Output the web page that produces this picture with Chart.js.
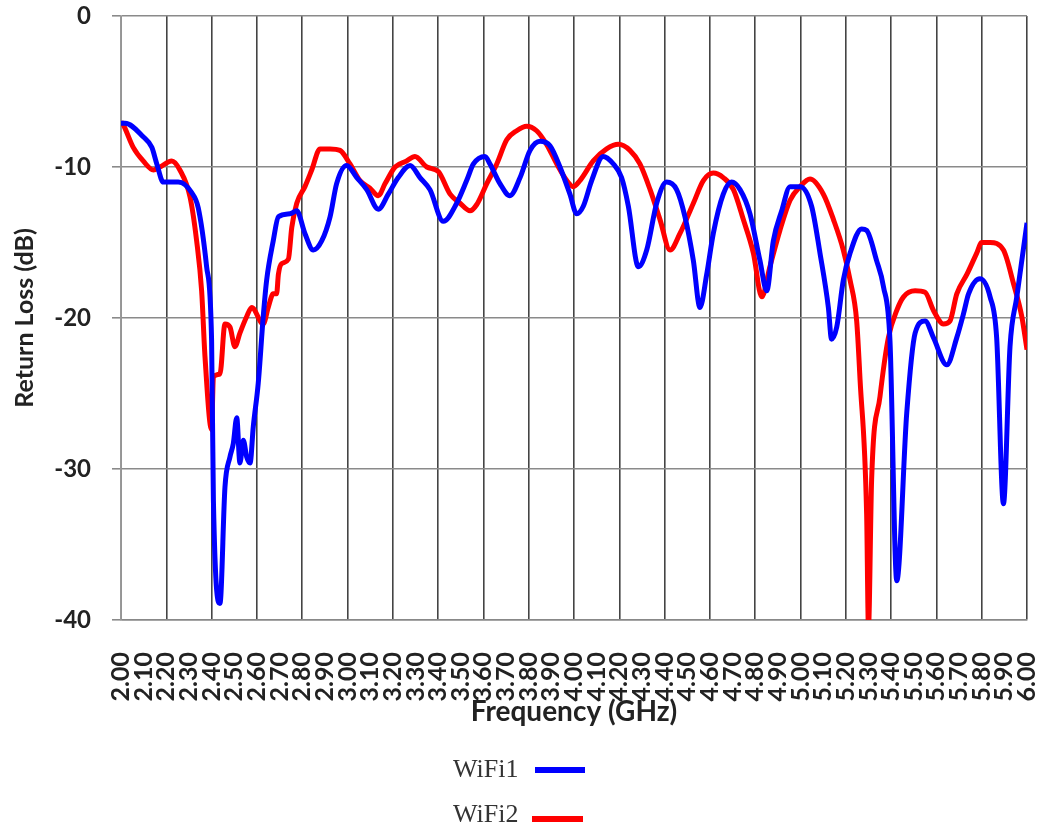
<!DOCTYPE html>
<html>
<head>
<meta charset="utf-8">
<script src="https://cdn.jsdelivr.net/npm/chart.js@4"></script>
<style>
    body { margin: 0; background: #fff; }
    #wrap { position: relative; width: 1046px; height: 834px; }
    .leg { position: absolute; font-family: 'Liberation Serif', serif; font-size: 26px; color: #333; }
    .legLine { position: absolute; height: 6px; }
</style>
</head>
<body>
<div id="wrap">
    <canvas id="grafico" width="1046" height="834"></canvas>
    <div class="leg" style="left:453px; top:754px;">WiFi1</div>
    <div class="legLine" style="left:535px; top:767px; width:50px; background:#0000ff;"></div>
    <div class="leg" style="left:453px; top:799px;">WiFi2</div>
    <div class="legLine" style="left:532px; top:816px; width:51px; background:#ff0000;"></div>
</div>
<script>
const wifi1Freq = [2.000, 2.018, 2.098, 2.136, 2.158, 2.187, 2.253, 2.312, 2.341, 2.378,
    2.400, 2.408, 2.437, 2.459, 2.481, 2.496, 2.511, 2.525, 2.540, 2.555,
    2.570, 2.584, 2.606, 2.628, 2.643, 2.672, 2.695, 2.746, 2.776, 2.812,
    2.849, 2.886, 2.923, 2.952, 2.996, 3.041, 3.085, 3.136, 3.180, 3.224,
    3.276, 3.320, 3.364, 3.423, 3.482, 3.526, 3.556, 3.607, 3.629, 3.673,
    3.717, 3.762, 3.806, 3.850, 3.894, 3.938, 3.982, 4.012, 4.041, 4.078,
    4.129, 4.174, 4.210, 4.240, 4.284, 4.321, 4.365, 4.409, 4.453, 4.490,
    4.527, 4.556, 4.586, 4.615, 4.659, 4.696, 4.733, 4.777, 4.821, 4.851,
    4.880, 4.917, 4.954, 4.998, 5.049, 5.086, 5.123, 5.137, 5.160, 5.189,
    5.219, 5.270, 5.292, 5.336, 5.366, 5.395, 5.425, 5.469, 5.506, 5.550,
    5.587, 5.646, 5.690, 5.720, 5.742, 5.792, 5.837, 5.866, 5.896, 5.925,
    5.955, 6.000];
const wifi1Loss = [-7.1, -7.1, -8.0, -8.7, -9.8, -11.0, -11.0, -11.7, -12.7, -16.6,
    -21.5, -32.1, -38.9, -31.2, -29.2, -28.3, -26.6, -29.6, -28.1, -29.2,
    -29.6, -27.2, -24.3, -19.9, -17.5, -14.9, -13.3, -13.1, -12.9, -14.4,
    -15.5, -14.9, -13.3, -11.1, -9.9, -10.7, -11.5, -12.8, -11.8, -10.7,
    -9.9, -10.7, -11.5, -13.6, -12.4, -10.9, -9.8, -9.3, -9.8, -11.1,
    -11.9, -10.7, -8.9, -8.3, -8.6, -10.0, -11.8, -13.1, -12.6, -10.9,
    -9.3, -9.8, -10.7, -12.6, -16.6, -15.5, -12.4, -11.0, -11.5, -13.3,
    -16.2, -19.3, -17.1, -14.4, -11.8, -11.0, -11.5, -13.1, -16.2, -18.2,
    -14.9, -12.9, -11.3, -11.3, -12.6, -15.7, -19.3, -21.4, -20.6, -17.5,
    -15.7, -14.1, -14.2, -16.2, -17.9, -21.5, -37.4, -26.3, -21.0, -20.2,
    -21.3, -23.1, -21.3, -19.7, -18.4, -17.4, -18.6, -21.3, -32.3, -21.9,
    -18.6, -13.7];

const wifi2Freq = [2.000, 2.010, 2.054, 2.098, 2.143, 2.172, 2.224, 2.260, 2.305, 2.334,
    2.356, 2.371, 2.400, 2.408, 2.437, 2.459, 2.481, 2.503, 2.525, 2.555,
    2.577, 2.628, 2.650, 2.672, 2.687, 2.695, 2.709, 2.739, 2.754, 2.776,
    2.812, 2.842, 2.879, 2.923, 2.967, 3.011, 3.055, 3.099, 3.136, 3.166,
    3.210, 3.261, 3.298, 3.350, 3.401, 3.453, 3.497, 3.541, 3.570, 3.615,
    3.659, 3.703, 3.747, 3.791, 3.835, 3.879, 3.924, 3.968, 3.997, 4.026,
    4.085, 4.144, 4.196, 4.247, 4.291, 4.336, 4.380, 4.424, 4.468, 4.527,
    4.571, 4.615, 4.659, 4.704, 4.748, 4.792, 4.829, 4.865, 4.909, 4.954,
    4.998, 5.042, 5.101, 5.146, 5.189, 5.219, 5.248, 5.263, 5.292, 5.300,
    5.314, 5.351, 5.388, 5.425, 5.455, 5.506, 5.550, 5.587, 5.631, 5.660,
    5.690, 5.735, 5.778, 5.800, 5.837, 5.896, 5.940, 5.977, 6.000];
const wifi2Loss = [-7.0, -7.2, -8.7, -9.6, -10.2, -10.0, -9.6, -10.2, -12.0, -14.9,
    -18.2, -22.6, -27.4, -23.9, -23.7, -20.4, -20.6, -21.9, -21.0, -19.9,
    -19.3, -20.4, -19.3, -18.4, -18.4, -17.1, -16.4, -16.1, -14.0, -12.4,
    -11.3, -10.2, -8.8, -8.8, -8.9, -9.8, -10.9, -11.4, -11.9, -11.1,
    -10.0, -9.6, -9.3, -10.0, -10.3, -11.8, -12.4, -12.9, -12.5, -11.1,
    -9.8, -8.2, -7.6, -7.3, -7.6, -8.5, -9.8, -10.9, -11.3, -10.9,
    -9.6, -8.8, -8.5, -8.9, -9.8, -11.5, -13.5, -15.5, -14.4, -12.4,
    -10.9, -10.4, -10.7, -11.5, -13.5, -15.7, -18.6, -16.6, -14.2, -12.2,
    -11.3, -10.8, -11.8, -13.5, -15.5, -17.5, -20.2, -24.1, -33.0, -40.5,
    -30.7, -25.2, -21.3, -19.5, -18.6, -18.2, -18.3, -19.5, -20.4, -20.2,
    -18.4, -17.1, -15.7, -15.0, -15.0, -15.5, -17.7, -19.9, -22.1];

const yTicks = [0, -10, -20, -30, -40];

function pontos(xs, ys) {
    return xs.map((x, i) => ({ x: x, y: ys[i] }));
}

// sem padding extra dos rótulos, para a área do gráfico ficar no lugar certo
function semPadding(s) {
    s.paddingLeft = 0;
    s.paddingRight = 0;
    s.paddingTop = 0;
    s.paddingBottom = 0;
}

new Chart(document.getElementById('grafico'), {
    type: 'line',

    data: {
        datasets: [{
            label: 'WiFi1',
            data: pontos(wifi1Freq, wifi1Loss),
            borderColor: '#0000ff',
            borderWidth: 5,
            pointRadius: 0,
            cubicInterpolationMode: 'monotone'
        }, {
            label: 'WiFi2',
            data: pontos(wifi2Freq, wifi2Loss),
            borderColor: '#ff0000',
            borderWidth: 5,
            pointRadius: 0,
            cubicInterpolationMode: 'monotone'
        }]
    },

    options: {
        responsive: false,
        animation: false,
        layout: {
            padding: { left: 0, top: 16, right: 19, bottom: 105 }
        },
        plugins: {
            legend: { display: false },
            tooltip: { enabled: false }
        },

        scales: {
            x: {
                type: 'linear',
                min: 2,
                max: 6,
                afterFit: (s) => { s.height = 109; semPadding(s); },
                ticks: {
                    stepSize: 0.1,
                    autoSkip: false,
                    minRotation: 90,
                    maxRotation: 90,
                    padding: 32,
                    color: '#222',
                    font: { family: 'Lato', size: 25, weight: 'bold' },
                    callback: (v) => Number(v).toFixed(2)
                },
                grid: {
                    drawTicks: false,
                    lineWidth: 1.6,
                    color: (c) => (Math.round(c.tick.value * 10) % 2 === 0 ? '#444' : 'rgba(0,0,0,0)')
                },
                border: { color: '#888', width: 1.6 },
                title: {
                    display: true,
                    text: 'Frequency (GHz)',
                    color: '#222',
                    padding: 0,
                    font: { family: 'Lato', size: 28, weight: 'bold' }
                }
            },

            y: {
                min: -40,
                max: 0,
                afterFit: (s) => { s.width = 121; semPadding(s); },
                afterBuildTicks: (s) => { s.ticks = yTicks.map(v => ({ value: v })); },
                ticks: {
                    padding: 21,
                    color: '#222',
                    font: { family: 'Lato', size: 24, weight: 'bold' }
                },
                grid: {
                    tickLength: 9,
                    lineWidth: 1.6,
                    color: '#8a8a8a'
                },
                border: { color: '#999', width: 1.6 },
                title: {
                    display: true,
                    text: 'Return Loss (dB)',
                    color: '#222',
                    padding: { top: 10, bottom: 0 },
                    font: { family: 'Lato', size: 25, weight: 'bold' }
                }
            }
        }
    }
});
</script>
</body>
</html>
